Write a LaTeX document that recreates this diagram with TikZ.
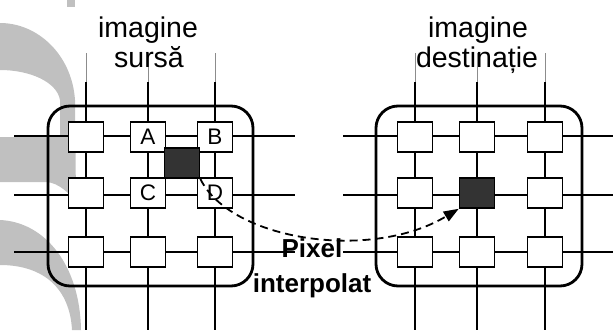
\documentclass[tikz,border=0pt]{standalone}
\usepackage{fontspec}
\setmainfont{Liberation Sans}
\usetikzlibrary{arrows.meta}
\definecolor{wm}{RGB}{192,192,192}
\definecolor{darkpix}{RGB}{51,51,51}
\begin{document}
\begin{tikzpicture}[x=1pt,y=-1pt,
  gridline/.style={line width=1.8pt},
  faint/.style={black!45, line width=0.9pt},
  frame/.style={line width=2.8pt, rounded corners=22pt},
  cell/.style={draw, fill=white, line width=1.6pt, minimum width=35pt, minimum height=30pt, inner sep=0pt, font=\fontsize{22.5}{22.5}\selectfont},
  darkcell/.style={cell, fill=darkpix},
  title/.style={font=\fontsize{28.5}{30}\selectfont, anchor=base, inner sep=0pt},
  boldlabel/.style={font=\bfseries\fontsize{26}{26}\selectfont, anchor=base, inner sep=0pt},
  flow/.style={line width=1.8pt, dash pattern=on 8pt off 5pt, -{Triangle[length=15pt,width=11pt]}}]
\useasboundingbox (0,0) rectangle (613,330);
% watermark
\fill[wm] (67,0) rectangle (75,7);
\fill[wm] (0,23) .. controls (38,23) and (72,55) .. (75,100) -- (76,200)
  .. controls (70,196) and (60,182) .. (45,182) -- (0,182) -- (0,137) -- (60,137) -- (60,100)
  .. controls (57,82) and (30,70) .. (0,70) -- cycle;
\fill[wm] (0,220) .. controls (45,222) and (80,265) .. (81,330) -- (72,330)
  .. controls (70,290) and (45,265) .. (0,265) -- cycle;
% grid lines
\foreach \x in {86,148,215,415,477,545} {
  \draw[faint] (\x,53) -- (\x,82);
  \draw[gridline] (\x,82) -- (\x,330);
}
\foreach \y in {136,195,252} {
  \draw[gridline] (14,\y) -- (295,\y);
  \draw[gridline] (343,\y) -- (613,\y);
}
% frames
\draw[frame] (48,106) rectangle (253,286);
\draw[frame] (376,106) rectangle (582,286);
% source cells
\node[cell] (s11) at (86,137) {};
\node[cell] (s12) at (148,137) {A};
\node[cell] (s13) at (215,137) {B};
\node[cell] (s21) at (86,193) {};
\node[cell] (s22) at (148,193) {C};
\node[cell] (s23) at (215,193) {D};
\node[cell] (s31) at (86,252) {};
\node[cell] (s32) at (148,252) {};
\node[cell] (s33) at (215,252) {};
\node[darkcell] (sd) at (182,163) {};
% destination cells
\node[cell] (d11) at (415,137) {};
\node[cell] (d12) at (477,137) {};
\node[cell] (d13) at (545,137) {};
\node[cell] (d21) at (415,193) {};
\node[darkcell] (dd) at (477,193) {};
\node[cell] (d23) at (545,193) {};
\node[cell] (d31) at (415,252) {};
\node[cell] (d32) at (477,252) {};
\node[cell] (d33) at (545,252) {};
% arrow
\draw[flow] (sd.south east) .. controls (230,240) and (370,262) .. (dd.south west);
% texts
\node[title] (t1) at (148,37) {imagine};
\node[title] (t2) at (149,67) {sursă};
\node[title] (t3) at (478,37) {imagine};
\node[title] (t4) at (477,67) {destinație};
\node[boldlabel] (p1) at (312,257) {Pixel};
\node[boldlabel] (p2) at (312,292) {interpolat};
\end{tikzpicture}
\end{document}
